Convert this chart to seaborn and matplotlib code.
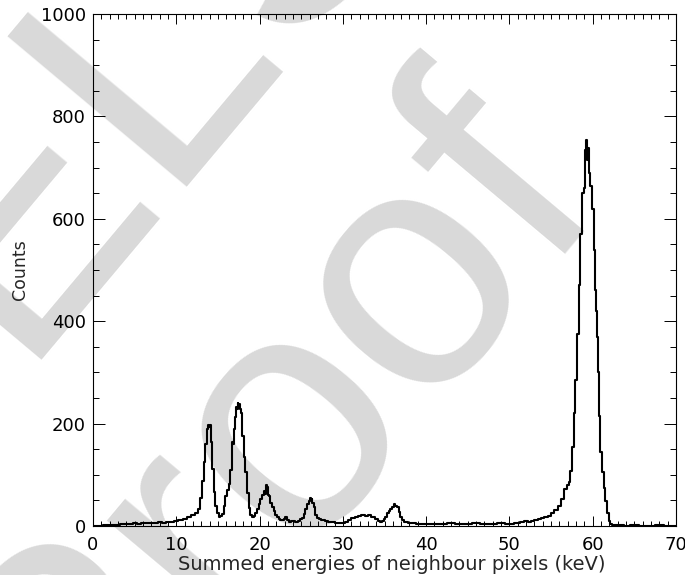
import matplotlib
matplotlib.use("Agg")
import matplotlib.pyplot as plt
from matplotlib.ticker import MultipleLocator
import seaborn as sns

# summed energy (keV) and counts
energy = [0.0, 1.0, 1.5, 2.0, 2.5, 3.0, 3.5, 4.0, 4.5, 5.0, 5.5, 6.0, 6.5, 7.0, 7.5,
          8.0, 8.5, 9.0, 9.5, 10.0, 10.5, 11.0, 11.5, 12.0, 12.4, 12.8, 13.0, 13.2,
          13.4, 13.6, 13.8, 13.9, 14.0, 14.1, 14.2, 14.4, 14.6, 14.8, 15.0, 15.2,
          15.4, 15.6, 15.8, 16.0, 16.2, 16.4, 16.6, 16.8, 16.9, 17.0, 17.1, 17.2,
          17.3, 17.4, 17.5, 17.6, 17.7, 17.8, 18.0, 18.2, 18.4, 18.6, 18.8, 19.0,
          19.2, 19.4, 19.6, 19.8, 20.0, 20.2, 20.4, 20.6, 20.7, 20.8, 20.9, 21.0,
          21.1, 21.2, 21.4, 21.6, 21.8, 22.0, 22.2, 22.4, 22.6, 22.8, 23.0, 23.2,
          23.4, 23.6, 24.0, 24.4, 24.8, 25.0, 25.2, 25.4, 25.6, 25.8, 26.0, 26.1,
          26.2, 26.3, 26.4, 26.6, 26.8, 27.0, 27.2, 27.6, 28.0, 28.4, 28.8, 29.2,
          29.6, 30.0, 30.4, 30.8, 31.2, 31.6, 32.0, 32.4, 32.8, 33.2, 33.6, 34.0,
          34.4, 34.6, 34.8, 35.0, 35.2, 35.4, 35.6, 35.8, 36.0, 36.2, 36.4, 36.6,
          36.8, 37.0, 37.2, 37.6, 38.0, 38.5, 39.0, 40.0, 41.0, 42.0, 43.0, 44.0,
          45.0, 46.0, 47.0, 48.0, 49.0, 50.0, 51.0, 51.6, 52.0, 52.4, 52.8, 53.2,
          53.6, 54.0, 54.4, 54.8, 55.2, 55.6, 56.0, 56.4, 56.8, 57.0, 57.2, 57.4,
          57.6, 57.8, 58.0, 58.2, 58.4, 58.6, 58.8, 59.0, 59.1, 59.2, 59.3, 59.4,
          59.5, 59.6, 59.8, 60.0, 60.2, 60.4, 60.5, 60.6, 60.7, 60.8, 61.0, 61.2,
          61.4, 61.6, 61.8, 62.0, 62.2, 62.4, 62.8, 63.5, 64.0, 65.0, 66.0, 67.0,
          68.0, 69.0, 70.0]
counts = [0, 0, 1, 1, 2, 2, 3, 4, 3, 5, 4, 6, 5, 6, 5,
          7, 6, 8, 7, 10, 12, 14, 17, 21, 25, 34, 55, 88,
          125, 160, 190, 197, 194, 198, 165, 112, 66, 40, 26, 17,
          19, 24, 40, 58, 70, 82, 110, 165, 160, 190, 212, 233,
          228, 240, 236, 239, 228, 220, 176, 135, 105, 64, 35, 22,
          17, 20, 26, 34, 42, 52, 60, 68, 62, 80, 70, 76,
          60, 58, 45, 38, 30, 22, 17, 14, 12, 11, 13, 18,
          12, 8, 9, 8, 10, 13, 16, 24, 34, 42, 48, 54,
          50, 53, 44, 38, 22, 16, 13, 12, 9, 8, 7, 6,
          5, 6, 8, 12, 15, 18, 20, 21, 19, 21, 17, 13,
          9, 7, 10, 14, 18, 25, 30, 34, 38, 42, 40, 38,
          28, 18, 12, 8, 6, 5, 4, 4, 3, 4, 5, 4,
          3, 5, 4, 4, 5, 4, 6, 8, 9, 8, 10, 12,
          14, 15, 18, 20, 25, 32, 40, 52, 72, 80, 86, 108,
          155, 220, 285, 375, 470, 570, 650, 660, 735, 745, 753, 715,
          738, 690, 665, 620, 540, 460, 420, 370, 300, 215, 145, 105,
          75, 48, 25, 10, 4, 2, 1, 1, 0, 1, 0, 0,
          1, 0, 0]

xticks = [0, 10, 20, 30, 40, 50, 60, 70]
yticks = [0, 200, 400, 600, 800, 1000]

sns.set_style("ticks")
plt.rcParams['font.family'] = ['DejaVu Sans']

fig = plt.figure(figsize=(6.85, 5.75), dpi=100)
ax = fig.add_axes([93 / 685, 1 - 526 / 575, 583 / 685, 512 / 575])
ax.patch.set_alpha(0)

# grey proof watermark behind the plot
wm = dict(color='#d9d9d9', fontsize=245, rotation=50, rotation_mode='anchor',
          ha='left', va='baseline', family='Liberation Sans', zorder=-5)
fig.text(14 / 685, 1 - 360 / 575, "ELSEVIER", **wm)
fig.text(75 / 685, 1 - 806 / 575, "Proof", **wm)

sns.lineplot(x=energy, y=counts, ax=ax, color='black', linewidth=1.5,
             drawstyle='steps-mid', estimator=None)

ax.set_xlim(0, 70)
ax.set_ylim(0, 1000)
ax.set_xticks(xticks)
ax.set_yticks(yticks)
ax.xaxis.set_minor_locator(MultipleLocator(1))
ax.yaxis.set_minor_locator(MultipleLocator(50))
for s in ax.spines.values():
    s.set_linewidth(0.8)
    s.set_color('black')
ax.tick_params(which='both', direction='in', top=True, right=True,
               width=0.7, colors='black', labelsize=13)
ax.tick_params(axis='x', which='major', length=7.2, pad=7)
ax.tick_params(axis='x', which='minor', length=3.6)
ax.tick_params(axis='y', which='major', length=8.4, pad=5)
ax.tick_params(axis='y', which='minor', length=4.2)

ax.set_xlabel('Summed energies of neighbour pixels (keV)', fontsize=14)
ax.set_ylabel('Counts', fontsize=12.5)
ax.xaxis.set_label_coords(0.513, -0.056)
ax.yaxis.set_label_coords(-0.109, 0.5)

fig.savefig('out.png', dpi=100)
